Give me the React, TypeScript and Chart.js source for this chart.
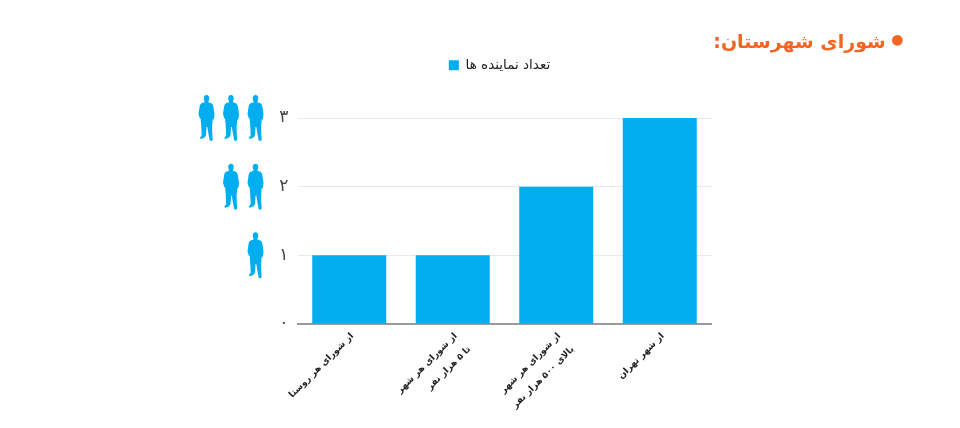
import React, { useEffect, useRef } from "react";
import { Chart, registerables } from "chart.js";

Chart.register(...registerables);

const categories: (string | string[])[] = [
  "از شورای هر روستا",
  ["از شورای هر شهر", "تا ۵ هزار نفر"],
  ["از شورای هر شهر", "بالای ۵۰۰ هزار نفر"],
  "از شهر تهران",
];
const representatives = [1, 1, 2, 3];
const seriesName = "تعداد نماینده ها";
const yTickLabels = ["۰", "۱", "۲", "۳"];
const titleText = "شورای شهرستان:";
const BLUE = "#00aeef";
const FONT = '"DejaVu Sans", sans-serif';

// person silhouette in a 16 x 46 box
const PERSON =
  "M8 0 C9.8 0 10.8 1.4 10.8 3.2 C10.8 4.8 10.2 5.8 9.8 6.4 L10.4 7.4 L13 8.2 C14.2 8.8 14.8 10.6 15.1 13 L16 19 L15.6 23 L14.6 25.6 L14.2 24 L14 27 L13.6 32 L13.8 39 L14.2 45 L12.8 46 L11.2 45.6 L9.8 38 L8.8 32 L8 32 L7.8 36 L7.6 40 L6.2 42.5 L2.4 44 L1.2 43 L3.2 40.4 L2.8 32 L2.4 27 L2.2 24 L1.2 23 L0 19 L0.9 13 C1.2 10.6 1.8 8.8 3 8.2 L5.6 7.4 L6.2 6.4 C5.8 5.8 5.2 4.8 5.2 3.2 C5.2 1.4 6.2 0 8 0 Z";

const LEGEND_CENTER_X = 499.5;
const LEGEND_RAISE = 36;

const layoutPlugin = {
  id: "legendPlace",
  afterLayout(chart: any) {
    const lg = chart.legend;
    const shift = LEGEND_CENTER_X - (lg.left + lg.right) / 2;
    lg.left += shift;
    lg.right += shift;
    lg.top -= LEGEND_RAISE;
    lg.bottom -= LEGEND_RAISE;
  },
};

const peoplePlugin = {
  id: "people",
  afterDraw(chart: any) {
    const { ctx, scales } = chart;
    const path = new Path2D(PERSON);
    [1, 2, 3].forEach((v) => {
      const y = scales.y.getPixelForValue(v);
      for (let i = 0; i < v; i++) {
        ctx.save();
        ctx.translate(scales.x.left - 50 - i * 24.5, y - 23);
        ctx.fillStyle = BLUE;
        ctx.fill(path);
        ctx.restore();
      }
    });
  },
};

export default function App() {
  const ref = useRef<HTMLCanvasElement>(null);
  useEffect(() => {
    document.body.style.margin = "0";
    const chart = new Chart(ref.current!, {
      type: "bar",
      data: {
        labels: categories as any,
        datasets: [
          {
            label: seriesName,
            data: representatives,
            backgroundColor: BLUE,
            barPercentage: 0.715,
            categoryPercentage: 1,
          },
        ],
      },
      options: {
        responsive: false,
        animation: false,
        devicePixelRatio: 1,
        layout: { padding: { left: 257.5, right: 248.5, top: 48.5, bottom: 0 } },
        plugins: {
          tooltip: { enabled: false },
          legend: {
            position: "top",
            labels: {
              boxWidth: 10,
              boxHeight: 10,
              padding: 46,
              color: "#222222",
              font: { family: FONT, size: 13.5 },
            },
          },
        },
        scales: {
          x: {
            afterFit(scale: any) {
              scale.height = 104;
            },
            grid: { display: false, drawTicks: false },
            border: { color: "#999999", width: 2 },
            ticks: {
              minRotation: 45,
              maxRotation: 45,
              autoSkip: false,
              padding: 4,
              labelOffset: 3,
              color: "#222222",
              font: { family: FONT, size: 9, weight: "bold", lineHeight: 2.1 },
            },
          },
          y: {
            min: 0,
            max: 3,
            afterFit(scale: any) {
              scale.width = 40;
            },
            grid: { color: "#e9e9e9", drawTicks: false },
            border: { display: false },
            ticks: {
              stepSize: 1,
              padding: 9,
              color: "#444444",
              font: { family: FONT, size: 17 },
              callback: (v: any) => yTickLabels[Number(v)],
            },
          },
        },
      },
      plugins: [layoutPlugin, peoplePlugin],
    });
    return () => chart.destroy();
  }, []);
  return (
    <div style={{ position: "relative", width: 960, height: 428 }}>
      <canvas ref={ref} width={960} height={428} style={{ display: "block" }} />
      <div
        dir="rtl"
        style={{
          position: "absolute",
          right: 53,
          top: 30,
          color: "#f26522",
          font: `bold 19px ${FONT}`,
          whiteSpace: "nowrap",
        }}
      >
        <span style={{ fontSize: 30, lineHeight: 0, verticalAlign: -4, marginLeft: 2 }}>•</span>
        {titleText}
      </div>
    </div>
  );
}
